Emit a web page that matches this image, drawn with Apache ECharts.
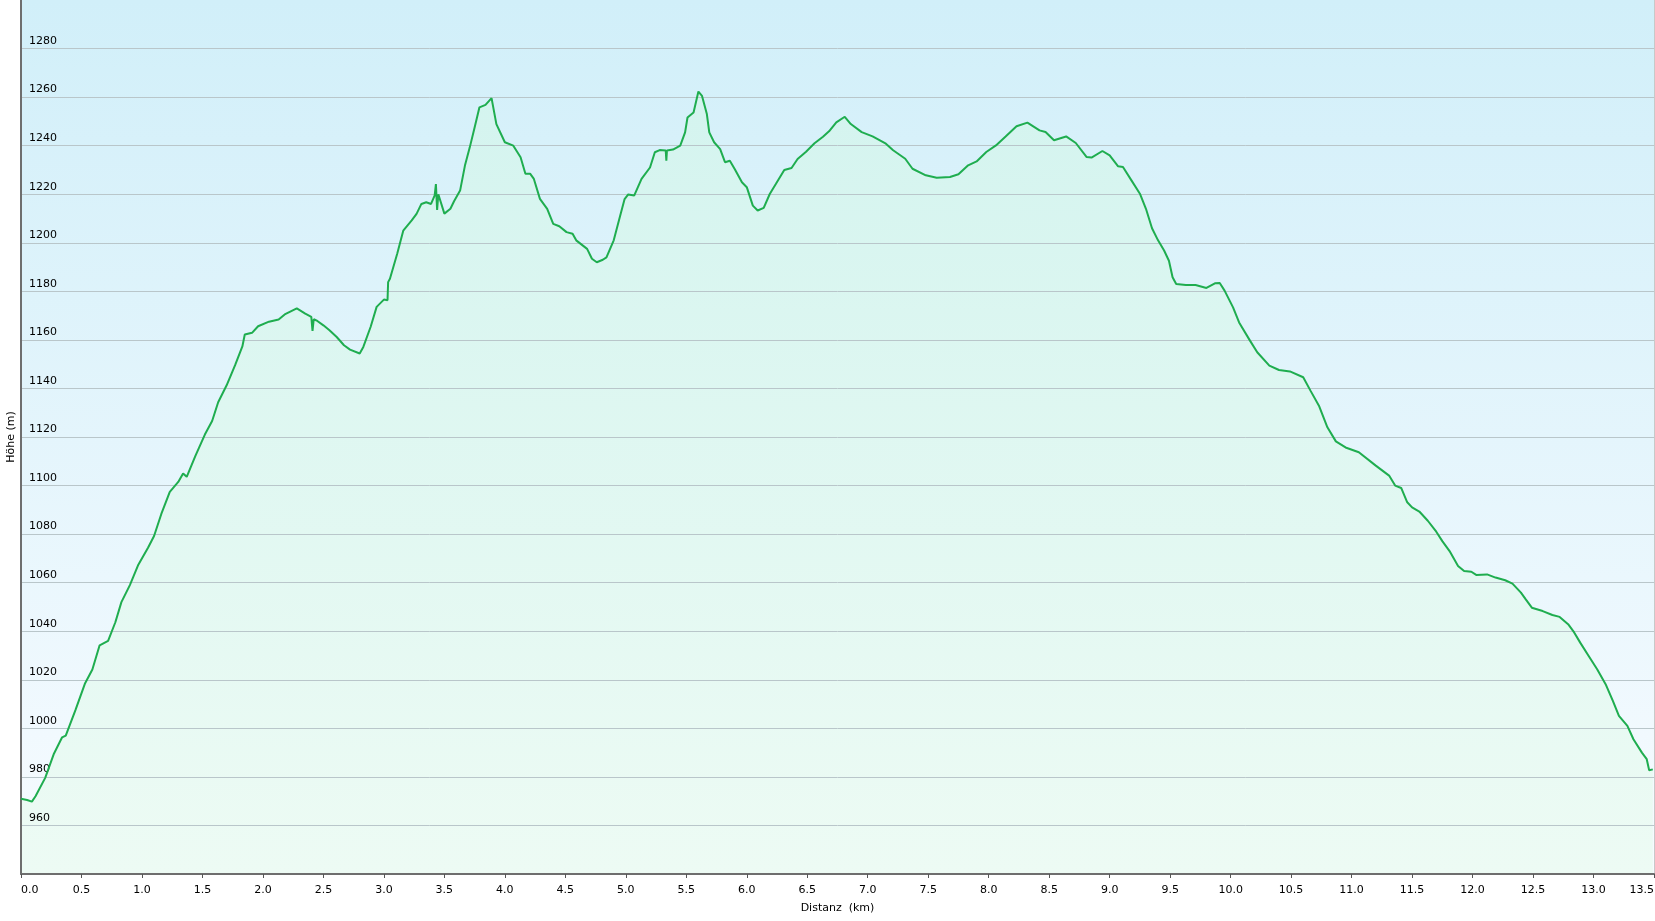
<!DOCTYPE html>
<html>
<head>
<meta charset="utf-8">
<script src="https://cdn.jsdelivr.net/npm/echarts@6/dist/echarts.min.js"></script>
<style>
html,body{margin:0;padding:0;background:#fff;}
#chart{width:1655px;height:921px;}
</style>
</head>
<body>
<div id="chart"></div>
<script>
// Distance (km)
const distKm = [
0.00,0.05,0.09,0.12,0.20,0.27,0.34,0.37,0.45,0.53,0.59,0.65,0.72,0.78,0.83,0.90,0.97,1.05,1.10,1.16,
1.23,1.30,1.34,1.37,1.44,1.52,1.58,1.63,1.70,1.77,1.83,1.85,1.91,1.96,2.05,2.13,2.18,2.28,2.35,2.40,
2.41,2.42,2.45,2.50,2.55,2.61,2.67,2.72,2.80,2.83,2.89,2.94,3.00,3.03,3.035,3.05,3.11,3.16,3.23,3.27,
3.31,3.35,3.39,3.42,3.43,3.44,3.45,3.50,3.55,3.58,3.63,3.67,3.71,3.75,3.79,3.84,3.89,3.93,4.00,4.07,
4.13,4.17,4.21,4.24,4.29,4.35,4.40,4.45,4.51,4.56,4.59,4.68,4.72,4.76,4.81,4.84,4.90,4.95,4.99,5.02,
5.07,5.13,5.20,5.24,5.28,5.33,5.335,5.34,5.39,5.45,5.49,5.51,5.56,5.60,5.63,5.67,5.69,5.73,5.78,5.82,
5.86,5.90,5.96,6.00,6.05,6.09,6.14,6.19,6.24,6.31,6.37,6.42,6.49,6.56,6.63,6.68,6.74,6.81,6.86,6.95,
7.04,7.15,7.21,7.31,7.37,7.48,7.57,7.68,7.75,7.83,7.90,7.98,8.06,8.14,8.23,8.32,8.42,8.47,8.54,8.64,
8.72,8.81,8.85,8.94,9.00,9.07,9.11,9.18,9.25,9.30,9.35,9.40,9.45,9.49,9.52,9.55,9.63,9.71,9.80,9.87,
9.91,9.95,10.02,10.07,10.16,10.22,10.32,10.40,10.49,10.60,10.66,10.73,10.80,10.87,10.95,11.06,11.20,11.31,11.36,11.41,
11.46,11.50,11.56,11.63,11.70,11.75,11.81,11.88,11.93,11.99,12.03,12.12,12.19,12.27,12.33,12.40,12.44,12.49,12.58,12.66,
12.72,12.79,12.84,12.89,12.96,13.03,13.10,13.16,13.21,13.28,13.33,13.40,13.44,13.46,13.49
];
// Elevation (m)
const elevM = [
971,970.5,969.8,972,979.6,989.3,996.3,997,1007.5,1018.6,1024.2,1034.2,1036,1043.7,1052,1059,1067.4,1074.4,1079.2,1088.3,
1097.4,1101.5,1105,1103.6,1112,1121,1126.6,1134.3,1141.3,1149.6,1157.3,1162.2,1162.9,1165.6,1167.5,1168.4,1170.5,1173,1170.8,1169.5,
1163.7,1168.5,1167.8,1166,1164,1161.2,1157.8,1156,1154.4,1157.1,1165.3,1173.6,1176.6,1176.3,1183.8,1185.2,1195.5,1205,1209.2,1211.9,
1216,1216.7,1216,1219.5,1224.2,1213.5,1220,1212,1214,1217.1,1221.5,1231.8,1239.3,1247.5,1255.8,1256.8,1259.6,1248.9,1241.4,1240,
1235.2,1228.4,1228.4,1226.3,1218.1,1214,1207.8,1206.8,1204.4,1203.7,1201,1197.5,1193.4,1192,1193,1194,1201,1210.5,1218,1219.9,
1219.5,1226.3,1231,1237.3,1238.2,1238,1233.8,1238,1238.4,1240,1245.5,1251.6,1253.7,1262.3,1260.5,1253,1245.5,1241.4,1238.6,1233.2,
1233.8,1230.4,1224.9,1222.9,1215.3,1213.3,1214.4,1220.1,1224.2,1230,1230.8,1234.5,1237.5,1241,1243.7,1245.9,1249.6,1251.9,1248.9,1245.6,
1243.8,1240.8,1238.1,1234.6,1230.5,1227.8,1226.8,1227.1,1228.2,1231.9,1233.5,1237.4,1240.1,1243.8,1248,1249.5,1246.3,1245.6,1242.2,1243.8,
1241.1,1235.3,1235.1,1237.8,1236,1231.5,1231.2,1225.7,1220.2,1214,1206,1201,1196.8,1192.6,1185.8,1183,1182.6,1182.6,1181.4,1183.3,
1183.4,1180.3,1173.4,1167.2,1159.7,1154.9,1149.4,1147.6,1147,1144.6,1139.1,1132.9,1124,1118.2,1115.7,1113.7,1108.2,1104.1,1100,1099,
1093.1,1091,1089.3,1085.5,1081,1077.1,1073,1066.9,1064.8,1064.5,1063.2,1063.4,1062.1,1061,1059.6,1055.9,1053.1,1049.7,1048.3,1046.7,
1045.9,1042.9,1039.5,1035.3,1029.8,1024.3,1018.2,1011.3,1005.1,1001,995.5,990,987.3,982.7,983.1
];
const xAxisName = 'Distanz  (km)';
const yAxisName = 'Höhe (m)';

const seriesData = distKm.map((d, i) => [d, elevM[i]]);
const FONT = 'DejaVu Sans, Verdana, sans-serif';
const Y_MIN = 940, Y_MAX = 1300;

const chart = echarts.init(document.getElementById('chart'), null, {renderer: 'canvas'});
chart.setOption({
  animation: false,
  backgroundColor: '#ffffff',
  grid: {
    left: 21, right: 1, top: 0, bottom: 47,
    outerBoundsMode: 'none',
    containLabel: false,
    show: true,
    borderWidth: 0,
    backgroundColor: new echarts.graphic.LinearGradient(0, 0, 0, 1, [
      {offset: 0, color: '#d1eff9'},
      {offset: 1, color: '#f7fbff'}
    ])
  },
  xAxis: {
    type: 'value',
    min: 0, max: 13.5, interval: 0.5,
    name: xAxisName,
    nameLocation: 'middle',
    nameGap: 29,
    nameTextStyle: {color: '#000', fontSize: 11, fontFamily: FONT},
    axisLine: {show: true, onZero: false, lineStyle: {color: '#6e6e6e', width: 2}},
    axisTick: {show: true, length: 4, lineStyle: {color: '#555', width: 1}},
    splitLine: {show: false},
    axisLabel: {
      color: '#000', fontSize: 11, fontFamily: FONT, margin: 11,
      formatter: v => v.toFixed(1),
      alignMinLabel: 'left', alignMaxLabel: 'right'
    },
    z: 6
  },
  yAxis: [{
    type: 'value',
    min: Y_MIN, max: Y_MAX, interval: 20,
    name: yAxisName,
    nameLocation: 'middle',
    nameGap: 4,
    nameRotate: 90,
    nameMoveOverlap: false,
    nameTextStyle: {color: '#000', fontSize: 11, fontFamily: FONT},
    axisLine: {show: true, lineStyle: {color: '#6e6e6e', width: 2}},
    axisTick: {show: false},
    splitLine: {show: true, showMinLine: false, showMaxLine: false, lineStyle: {color: '#b9c6ca', width: 1}},
    axisLabel: {
      inside: true, margin: 8, fontSize: 11, fontFamily: FONT, color: '#000',
      verticalAlign: 'bottom', padding: [0, 0, 2, 0],
      hideOverlap: false,
      formatter: v => (v <= Y_MIN || v >= Y_MAX) ? '' : String(v)
    },
    z: 3
  }, {
    type: 'value',
    position: 'right',
    min: Y_MIN, max: Y_MAX, interval: 20,
    axisLine: {show: true, lineStyle: {color: '#c8c8c8', width: 1}},
    axisTick: {show: false},
    axisLabel: {show: false},
    splitLine: {show: false},
    z: 3
  }],
  series: [{
    name: 'area',
    type: 'line',
    data: seriesData,
    showSymbol: false,
    symbol: 'none',
    lineStyle: {width: 0, opacity: 0},
    areaStyle: {
      opacity: 1,
      color: new echarts.graphic.LinearGradient(0, 0, 0, 1, [
        {offset: 0, color: '#d4f4ef'},
        {offset: 1, color: '#edfbf4'}
      ])
    },
    silent: true,
    z: 1
  }, {
    name: 'profile',
    type: 'line',
    data: seriesData,
    showSymbol: false,
    symbol: 'none',
    lineStyle: {color: '#1fad4f', width: 2},
    z: 5
  }]
});
</script>
</body>
</html>
